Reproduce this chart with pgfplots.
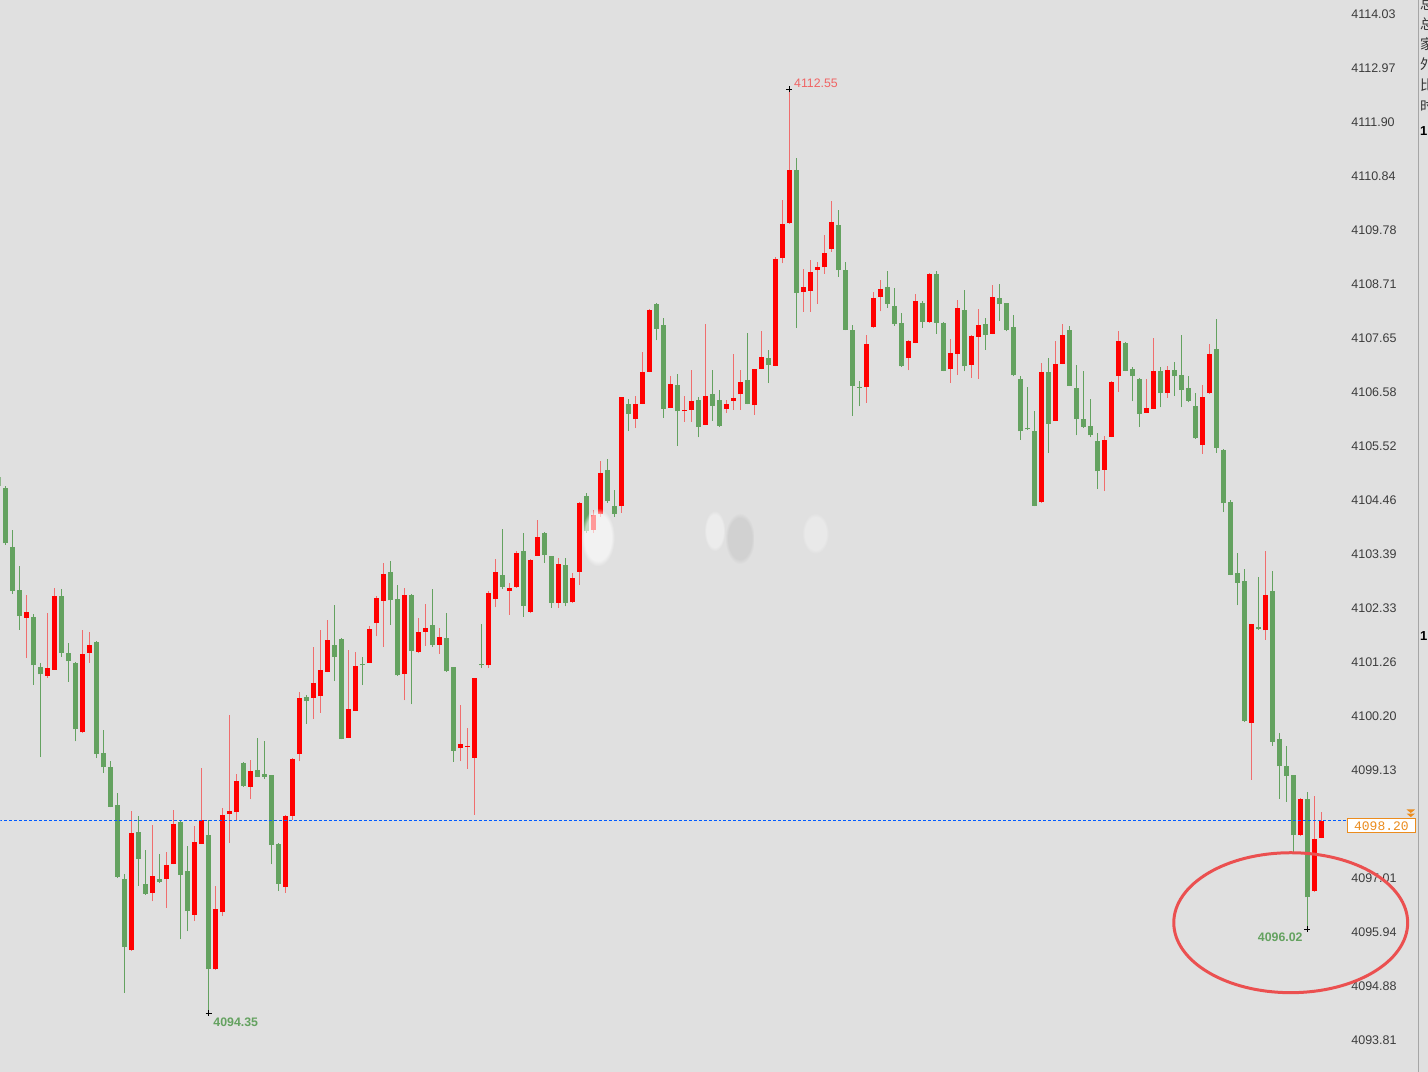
\documentclass[border=0pt]{standalone}
\usepackage{pgfplots}
\pgfplotsset{compat=1.18}
\usepackage{pgfplotstable}
\usetikzlibrary{fadings}
\usepackage{fontspec}
\setmainfont{Liberation Sans}
\newfontfamily\cjk{Noto Sans CJK SC}
\newfontfamily\monofont{Liberation Mono}

\definecolor{bg}{RGB}{224,224,224}
\definecolor{cred}{RGB}{255,0,0}
\definecolor{wred}{RGB}{240,110,110}
\definecolor{cgreen}{RGB}{100,162,96}
\definecolor{lblred}{RGB}{240,100,100}
\definecolor{dashblue}{RGB}{0,90,255}
\definecolor{orng}{RGB}{235,140,30}
\definecolor{ellred}{RGB}{235,80,80}
\definecolor{tickgray}{RGB}{60,60,60}

% red (rising) candles: x open high low close
\pgfplotstableread{
x o h l c
3 4102.14 4102.58 4101.34 4102.25
6 4100.99 4102.24 4100.96 4101.15
7 4101.11 4102.73 4101.11 4102.57
11 4099.88 4101.89 4099.87 4101.42
12 4101.45 4101.85 4101.25 4101.61
18 4095.59 4098.34 4095.58 4097.90
21 4096.72 4098.06 4096.55 4097.05
23 4096.99 4097.53 4096.42 4097.27
24 4097.29 4098.36 4097.28 4098.08
27 4096.29 4098.03 4096.16 4097.72
28 4097.69 4099.18 4097.68 4098.16
30 4095.21 4096.85 4095.20 4096.40
31 4096.34 4098.39 4096.26 4098.25
32 4098.28 4100.23 4097.70 4098.34
33 4098.31 4099.05 4098.16 4098.93
35 4098.81 4099.34 4098.56 4099.11
40 4096.84 4098.25 4096.72 4098.24
41 4098.24 4099.37 4098.16 4099.36
42 4099.45 4100.67 4099.31 4100.56
44 4100.56 4101.57 4100.14 4100.85
45 4100.59 4101.90 4100.27 4101.10
46 4101.07 4102.09 4101.06 4101.69
49 4099.77 4101.51 4099.76 4100.34
50 4100.31 4101.46 4100.30 4101.19
52 4101.25 4101.97 4101.24 4101.92
53 4102.03 4102.56 4101.77 4102.53
54 4102.47 4103.22 4101.57 4103.00
57 4101.03 4102.72 4100.51 4102.59
59 4101.47 4102.13 4101.44 4101.86
60 4101.86 4102.41 4101.59 4101.94
62 4101.61 4101.94 4101.43 4101.76
65 4099.57 4100.41 4099.31 4099.65
66 4099.60 4099.97 4099.16 4099.62
67 4099.38 4100.96 4098.26 4100.95
69 4101.20 4102.66 4101.15 4102.62
70 4102.51 4103.29 4102.34 4103.03
72 4102.67 4102.82 4102.20 4102.72
73 4102.75 4103.46 4102.73 4103.41
75 4102.26 4103.29 4102.23 4103.27
76 4103.36 4104.07 4103.35 4103.73
79 4102.43 4103.31 4102.33 4103.20
81 4102.44 4103.02 4102.43 4102.92
82 4103.04 4104.41 4102.79 4104.40
84 4103.87 4104.26 4103.81 4104.17
85 4104.19 4105.22 4104.13 4104.99
88 4104.33 4106.49 4104.21 4106.48
90 4106.05 4106.51 4105.87 4106.35
91 4106.35 4107.38 4106.34 4106.98
92 4106.98 4108.22 4106.97 4108.20
95 4106.27 4106.90 4106.26 4106.75
97 4106.20 4106.50 4106.00 4106.23
98 4106.23 4107.01 4106.00 4106.40
100 4105.94 4107.93 4105.93 4106.50
103 4106.25 4106.43 4106.17 4106.35
104 4106.41 4107.33 4106.23 4106.46
105 4106.54 4107.02 4106.23 4106.79
107 4106.32 4107.04 4106.14 4107.03
108 4107.04 4107.78 4107.03 4107.27
110 4107.10 4109.25 4107.09 4109.20
111 4109.22 4110.37 4109.12 4109.89
112 4109.91 4112.55 4109.90 4110.95
114 4108.55 4109.01 4108.16 4108.65
115 4108.58 4109.19 4108.16 4108.94
116 4108.99 4109.15 4108.32 4109.04
117 4109.04 4109.67 4108.91 4109.32
118 4109.40 4110.35 4109.35 4109.94
123 4106.68 4107.70 4106.37 4107.53
124 4107.86 4108.56 4107.85 4108.43
125 4108.46 4108.79 4108.17 4108.62
129 4107.25 4107.61 4107.01 4107.58
130 4107.55 4108.52 4107.54 4108.38
132 4107.96 4108.92 4107.95 4108.91
135 4107.03 4107.63 4106.76 4107.35
136 4107.34 4108.40 4106.92 4108.24
138 4107.12 4107.71 4106.86 4107.68
139 4107.67 4108.22 4106.84 4107.91
141 4107.73 4108.69 4107.72 4108.45
148 4104.41 4107.15 4104.40 4106.98
150 4106.02 4107.59 4106.01 4107.13
151 4107.14 4107.93 4107.13 4107.71
157 4105.05 4105.71 4104.63 4105.63
158 4105.70 4106.80 4105.69 4106.79
159 4106.90 4107.78 4106.59 4107.58
163 4106.18 4106.84 4106.17 4106.27
164 4106.25 4107.65 4106.24 4107.00
166 4106.56 4107.09 4106.47 4107.01
171 4105.54 4106.73 4105.37 4106.49
172 4106.56 4107.53 4106.55 4107.34
178 4100.06 4102.02 4098.95 4102.01
180 4101.89 4103.45 4101.70 4102.59
185 4097.85 4098.58 4097.84 4098.57
187 4096.75 4098.63 4096.74 4097.78
188 4097.80 4098.31 4097.79 4098.13
}\redtab

% green (falling) candles: x open high low close
\pgfplotstableread{
x o h l c
-1 4104.90 4104.93 4104.70 4104.73
0 4104.70 4104.74 4103.58 4103.60
1 4103.54 4103.86 4102.61 4102.66
2 4102.69 4103.15 4101.90 4102.17
4 4102.15 4102.21 4100.82 4101.20
5 4101.17 4101.25 4099.39 4101.02
8 4102.57 4102.70 4101.36 4101.45
9 4101.45 4101.64 4100.88 4101.28
10 4101.25 4101.26 4099.70 4099.94
13 4101.65 4101.68 4099.37 4099.46
14 4099.48 4099.93 4099.08 4099.19
15 4099.20 4099.32 4098.40 4098.41
16 4098.44 4098.69 4097.01 4097.03
17 4097.00 4097.09 4094.75 4095.66
19 4097.92 4098.23 4096.86 4097.39
20 4096.90 4097.56 4096.68 4096.70
22 4096.99 4097.49 4096.92 4096.93
25 4098.12 4098.13 4095.80 4097.07
26 4097.14 4097.65 4095.96 4096.36
29 4097.85 4098.16 4094.35 4095.21
34 4099.28 4099.30 4098.81 4098.82
36 4099.13 4099.76 4099.00 4099.01
37 4099.05 4099.70 4098.96 4099.01
38 4099.03 4099.04 4097.28 4097.66
39 4097.69 4097.70 4096.75 4096.90
43 4100.58 4100.62 4100.05 4100.49
47 4101.61 4102.39 4100.89 4101.36
48 4101.71 4101.74 4099.74 4099.75
51 4101.22 4101.37 4100.81 4101.20
55 4103.03 4103.25 4102.00 4102.48
56 4102.51 4102.79 4100.99 4101.00
58 4102.58 4102.61 4100.43 4101.49
61 4102.00 4102.70 4101.57 4101.61
63 4101.73 4102.24 4101.07 4101.08
64 4101.16 4101.17 4099.30 4099.51
68 4101.23 4102.02 4101.15 4101.20
71 4102.98 4103.89 4102.70 4102.75
74 4103.46 4103.81 4102.16 4102.37
77 4103.80 4103.82 4103.22 4103.37
78 4103.35 4103.36 4102.33 4102.43
80 4103.18 4103.31 4102.36 4102.43
83 4104.53 4104.60 4103.81 4103.85
86 4105.05 4105.26 4104.40 4104.43
87 4104.34 4104.66 4104.13 4104.19
89 4106.35 4106.44 4105.81 4106.16
93 4108.32 4108.33 4107.60 4107.83
94 4107.91 4108.04 4106.08 4106.25
96 4106.73 4106.94 4105.53 4106.20
99 4106.43 4106.48 4105.69 4105.90
101 4106.54 4107.02 4106.02 4106.31
102 4106.43 4106.63 4105.90 4105.92
106 4106.82 4107.74 4106.34 4106.35
109 4107.25 4107.42 4106.76 4107.12
113 4110.96 4111.20 4107.84 4108.54
119 4109.88 4110.17 4108.85 4108.98
120 4108.99 4109.15 4107.80 4107.81
121 4107.81 4107.91 4106.12 4106.71
122 4106.69 4106.80 4106.30 4106.67
126 4108.65 4108.96 4108.24 4108.32
127 4108.28 4108.63 4107.89 4107.93
128 4107.94 4108.14 4107.08 4107.09
131 4108.33 4108.37 4107.84 4107.97
133 4108.91 4108.96 4107.73 4107.95
134 4107.95 4107.96 4106.99 4107.00
137 4108.20 4108.60 4106.99 4107.09
140 4107.93 4108.04 4107.42 4107.71
142 4108.44 4108.71 4107.99 4108.31
143 4108.33 4108.34 4107.78 4107.81
144 4107.87 4108.10 4106.89 4106.91
145 4106.84 4106.89 4105.64 4105.81
146 4105.87 4106.69 4105.84 4105.85
147 4105.82 4106.20 4104.33 4104.34
149 4106.98 4107.26 4105.39 4105.96
152 4107.81 4107.89 4106.70 4106.71
153 4106.66 4107.12 4105.73 4106.05
154 4106.05 4106.99 4105.87 4105.90
155 4105.92 4106.44 4105.69 4105.73
156 4105.62 4105.78 4104.67 4105.02
160 4107.55 4107.57 4106.99 4107.00
161 4107.04 4107.07 4106.40 4106.89
162 4106.84 4106.86 4105.90 4106.15
165 4106.99 4107.08 4106.28 4106.56
167 4107.02 4107.18 4106.51 4106.89
168 4106.92 4107.71 4106.28 4106.63
169 4106.66 4106.89 4106.38 4106.41
170 4106.30 4106.57 4105.66 4105.67
173 4107.44 4108.03 4105.39 4105.49
174 4105.45 4105.46 4104.22 4104.39
175 4104.42 4104.46 4102.97 4102.98
176 4103.02 4103.42 4102.38 4102.83
177 4102.87 4103.09 4100.09 4100.10
179 4101.95 4102.94 4101.90 4101.91
181 4102.67 4103.05 4099.62 4099.69
182 4099.74 4099.87 4098.57 4099.21
183 4099.22 4099.62 4098.51 4099.02
184 4099.03 4099.04 4097.50 4097.85
186 4098.57 4098.71 4096.00 4096.63
}\greentab

\begin{document}
\begin{tikzpicture}
\fill[bg] (0,0) rectangle (428.4pt,321.6pt);
\begin{axis}[
  at={(0,0)}, anchor=south west,
  scale only axis, width=428.4pt, height=321.6pt,
  xmin=-0.786, xmax=203.214, ymin=4093.199, ymax=4114.306,
  axis line style={draw=none},
  xtick=\empty,
  ytick={4093.81,4094.88,4095.94,4097.01,4099.13,4100.20,4101.26,4102.33,4103.39,4104.46,4105.52,4106.58,4107.65,4108.71,4109.78,4110.84,4111.90,4112.97,4114.03},
  yticklabels={4093.81,4094.88,4095.94,4097.01,4099.13,4100.20,4101.26,4102.33,4103.39,4104.46,4105.52,4106.58,4107.65,4108.71,4109.78,4110.84,4111.90,4112.97,4114.03},
  yticklabel pos=right,
  major tick length=0pt,
  yticklabel style={anchor=west, inner sep=0pt, xshift=-23.1pt, text=tickgray, font=\fontsize{3.75pt}{4pt}\selectfont},
]
% wicks
\addplot[draw=none, forget plot, error bars/.cd, y dir=plus, y explicit, error mark=none,
  error bar style={draw=wred, line width=0.3pt, solid}]
  table[x=x, y=l, y error plus expr=\thisrow{h}-\thisrow{l}] {\redtab};
\addplot[draw=none, forget plot, error bars/.cd, y dir=plus, y explicit, error mark=none,
  error bar style={draw=cgreen, line width=0.3pt, solid}]
  table[x=x, y=l, y error plus expr=\thisrow{h}-\thisrow{l}] {\greentab};
% bodies
\addplot[draw=none, forget plot, error bars/.cd, y dir=plus, y explicit, error mark=none,
  error bar style={draw=cred, line width=1.45pt, solid, line cap=butt}]
  table[x=x, y=o, y error plus expr=\thisrow{c}-\thisrow{o}] {\redtab};
\addplot[draw=none, forget plot, error bars/.cd, y dir=plus, y explicit, error mark=none,
  error bar style={draw=cgreen, line width=1.45pt, solid, line cap=butt}]
  table[x=x, y=c, y error plus expr=\thisrow{o}-\thisrow{c}] {\greentab};

% soft watermark blur over candles
\fill[white, path fading=circle with fuzzy edge 20 percent, opacity=0.6] (axis cs:82.2,4104.30) rectangle (axis cs:87.0,4103.15);
\fill[black!25, path fading=circle with fuzzy edge 20 percent, opacity=0.45] (axis cs:102.8,4104.20) rectangle (axis cs:107.0,4103.20);
\fill[white, path fading=circle with fuzzy edge 20 percent, opacity=0.4] (axis cs:99.8,4104.25) rectangle (axis cs:102.8,4103.45);
\fill[white, path fading=circle with fuzzy edge 20 percent, opacity=0.3] (axis cs:113.8,4104.20) rectangle (axis cs:117.6,4103.40);

% last price line
\addplot[dashblue, line width=0.3pt, dash pattern=on 0.9pt off 0.6pt, forget plot]
  coordinates {(-1,4098.151) (191.5,4098.151)};

% extreme markers
\addplot[only marks, mark=+, mark size=0.9pt, black, mark options={line width=0.3pt}, forget plot]
  coordinates {(112,4112.55) (29,4094.35) (186,4096.00)};

\node[text=lblred, font=\fontsize{3.7pt}{4pt}\selectfont, inner sep=0pt] at (axis cs:115.79,4112.67) {4112.55};
\node[text=cgreen, font=\bfseries\fontsize{3.7pt}{4pt}\selectfont, inner sep=0pt] at (axis cs:32.86,4094.16) {4094.35};
\node[text=cgreen, font=\bfseries\fontsize{3.7pt}{4pt}\selectfont, inner sep=0pt] at (axis cs:182.14,4095.84) {4096.02};

% current price box
\draw[orng, fill=white, line width=0.3pt] (axis cs:191.8,4098.18) rectangle (axis cs:201.5,4097.905);
\node[text=orng, font=\monofont\fontsize{3.9pt}{4pt}\selectfont, inner sep=0pt] at (axis cs:196.6,4098.04) {4098.20};
\fill[orng] (axis cs:200.2,4098.36) -- (axis cs:201.4,4098.36) -- (axis cs:200.8,4098.29) -- cycle;
\fill[orng] (axis cs:200.2,4098.28) -- (axis cs:201.4,4098.28) -- (axis cs:200.8,4098.21) -- cycle;

% right panel edge (cut off in the reference)
\draw[black!35, line width=0.3pt] (axis cs:201.93,4093.199) -- (axis cs:201.93,4114.306);
\node[anchor=west, inner sep=0pt, text=black!80, font=\cjk\fontsize{4.2pt}{5pt}\selectfont] at (axis cs:202.05,4114.23) {总};
\node[anchor=west, inner sep=0pt, text=black!80, font=\cjk\fontsize{4.2pt}{5pt}\selectfont] at (axis cs:202.05,4113.83) {总};
\node[anchor=west, inner sep=0pt, text=black!80, font=\cjk\fontsize{4.2pt}{5pt}\selectfont] at (axis cs:202.05,4113.44) {家};
\node[anchor=west, inner sep=0pt, text=black!80, font=\cjk\fontsize{4.2pt}{5pt}\selectfont] at (axis cs:202.05,4113.04) {外};
\node[anchor=west, inner sep=0pt, text=black!80, font=\cjk\fontsize{4.2pt}{5pt}\selectfont] at (axis cs:202.05,4112.63) {比};
\node[anchor=west, inner sep=0pt, text=black!80, font=\cjk\fontsize{4.2pt}{5pt}\selectfont] at (axis cs:202.05,4112.22) {时};
\node[anchor=west, inner sep=0pt, font=\bfseries\fontsize{3.9pt}{4pt}\selectfont] at (axis cs:202.05,4111.73) {1};
\node[anchor=west, inner sep=0pt, font=\bfseries\fontsize{3.9pt}{4pt}\selectfont] at (axis cs:202.05,4101.78) {1};

% circle annotation
\draw[ellred, line width=0.9pt] (axis cs:183.64,4096.13) ellipse [x radius=35.1pt, y radius=21pt];
\end{axis}
\path[use as bounding box] (0,0) rectangle (428.4pt,321.6pt);
\end{tikzpicture}
\end{document}
